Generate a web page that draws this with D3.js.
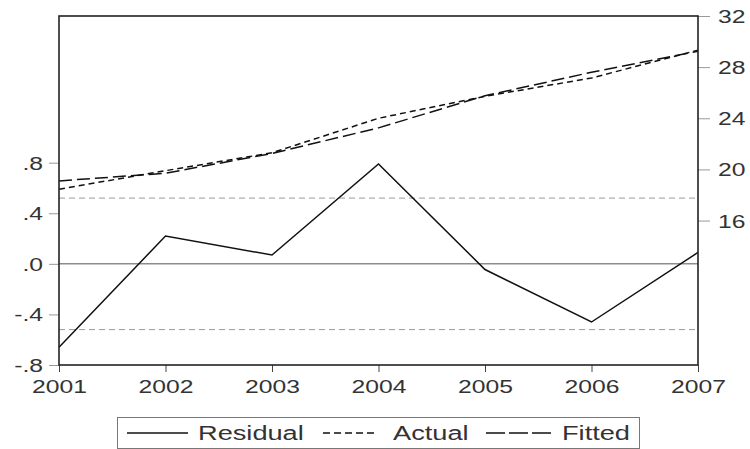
<!DOCTYPE html>
<html>
<head>
<meta charset="utf-8">
<script src="https://cdn.jsdelivr.net/npm/d3@7"></script>
<style>
  html, body { margin: 0; padding: 0; background: #fff; }
  svg { display: block; }
  text { font-family: "Liberation Sans", Arial, sans-serif; fill: #333; }
</style>
</head>
<body>
<svg id="chart" width="750" height="449"></svg>
<script>
// ---------- data ----------
const years = [2001, 2002, 2003, 2004, 2005, 2006, 2007];
const residual = [-0.66, 0.22, 0.07, 0.79, -0.045, -0.46, 0.09];
const actual   = [18.45, 19.90, 21.30, 24.00, 25.72, 27.15, 29.33];
const fitted   = [19.10, 19.70, 21.25, 23.25, 25.76, 27.60, 29.24];
const residualBand = 0.52;
const leftTicks = [-0.8, -0.4, 0, 0.4, 0.8];
const leftTickLabels = ["-.8", "-.4", ".0", ".4", ".8"];
const rightTicks = [16, 20, 24, 28, 32];
const rightTickLabels = ["16", "20", "24", "28", "32"];
const legendLabels = ["Residual", "Actual", "Fitted"];

// ---------- layout ----------
const svg = d3.select("#chart");
const L = 59, R = 698, T = 16, B = 365;
const SX = 1.3; // horizontal stretch of the text

const x = d3.scaleLinear().domain([2001, 2007]).range([L, R]);
const yL = d3.scaleLinear().domain([-0.8, 1.96]).range([B, T]);
const yR = d3.scaleLinear().domain([4.7, 32]).range([B, T]);

// reference lines
svg.append("line")
  .attr("x1", L).attr("x2", R).attr("y1", yL(0)).attr("y2", yL(0))
  .attr("stroke", "#555").attr("stroke-width", 1);
[residualBand, -residualBand].forEach(v => {
  svg.append("line")
    .attr("x1", L).attr("x2", R).attr("y1", yL(v)).attr("y2", yL(v))
    .attr("stroke", "#9a9a9a").attr("stroke-width", 1)
    .attr("stroke-dasharray", "6,4");
});

// series
const lineL = d3.line().x((d, i) => x(years[i])).y(d => yL(d));
const lineR = d3.line().x((d, i) => x(years[i])).y(d => yR(d));

svg.append("path").datum(actual).attr("d", lineR)
  .attr("fill", "none").attr("stroke", "#111").attr("stroke-width", 1.5)
  .attr("stroke-dasharray", "6,4");
svg.append("path").datum(fitted).attr("d", lineR)
  .attr("fill", "none").attr("stroke", "#111").attr("stroke-width", 1.5)
  .attr("stroke-dasharray", "13,5");
svg.append("path").datum(residual).attr("d", lineL)
  .attr("fill", "none").attr("stroke", "#111").attr("stroke-width", 1.5);

// axes
const gB = svg.append("g").attr("transform", `translate(0,${B})`)
  .call(d3.axisBottom(x).tickValues(years).tickFormat(d3.format("d")).tickSize(7).tickSizeOuter(0));
gB.select(".domain").remove();
gB.selectAll(".tick line").attr("stroke", "#444");
gB.selectAll(".tick text")
  .attr("y", 28).attr("dy", 0)
  .attr("font-size", 19).attr("transform", `scale(${SX},1)`);

const gL = svg.append("g").attr("transform", `translate(${L},0)`)
  .call(d3.axisLeft(yL).tickValues(leftTicks)
    .tickFormat((d, i) => leftTickLabels[i]).tickSize(10).tickSizeOuter(0));
gL.select(".domain").remove();
gL.selectAll(".tick line").attr("stroke", "#999");
gL.selectAll(".tick text")
  .attr("x", -16 / SX).attr("dy", "0.34em")
  .attr("font-size", 19).attr("transform", `scale(${SX},1)`);

const gR = svg.append("g").attr("transform", `translate(${R},0)`)
  .call(d3.axisRight(yR).tickValues(rightTicks)
    .tickFormat((d, i) => rightTickLabels[i]).tickSize(12).tickSizeOuter(0));
gR.select(".domain").remove();
gR.selectAll(".tick line").attr("stroke", "#999");
gR.selectAll(".tick text")
  .attr("x", 20 / SX).attr("dy", "0.34em")
  .attr("font-size", 19).attr("transform", `scale(${SX},1)`);

// frame
svg.append("rect")
  .attr("x", L).attr("y", T).attr("width", R - L).attr("height", B - T)
  .attr("fill", "none").attr("stroke", "#222").attr("stroke-width", 1.6);

// legend
const lg = svg.append("g");
lg.append("rect").attr("x", 117.5).attr("y", 417.5).attr("width", 522).attr("height", 31)
  .attr("fill", "none").attr("stroke", "#777").attr("stroke-width", 1);
const items = [
  { x1: 127, x2: 188, tx: 198, dash: null },
  { x1: 323, x2: 377, tx: 393, dash: "7,4" },
  { x1: 486, x2: 551, tx: 562, dash: "19,4" }
];
items.forEach((it, i) => {
  lg.append("line").attr("x1", it.x1).attr("x2", it.x2).attr("y1", 433).attr("y2", 433)
    .attr("stroke", "#111").attr("stroke-width", 1.5)
    .attr("stroke-dasharray", it.dash);
  lg.append("g").attr("transform", `translate(${it.tx},440)`)
    .append("text").attr("font-size", 20).attr("transform", `scale(1.36,1)`)
    .text(legendLabels[i]);
});
</script>
</body>
</html>
